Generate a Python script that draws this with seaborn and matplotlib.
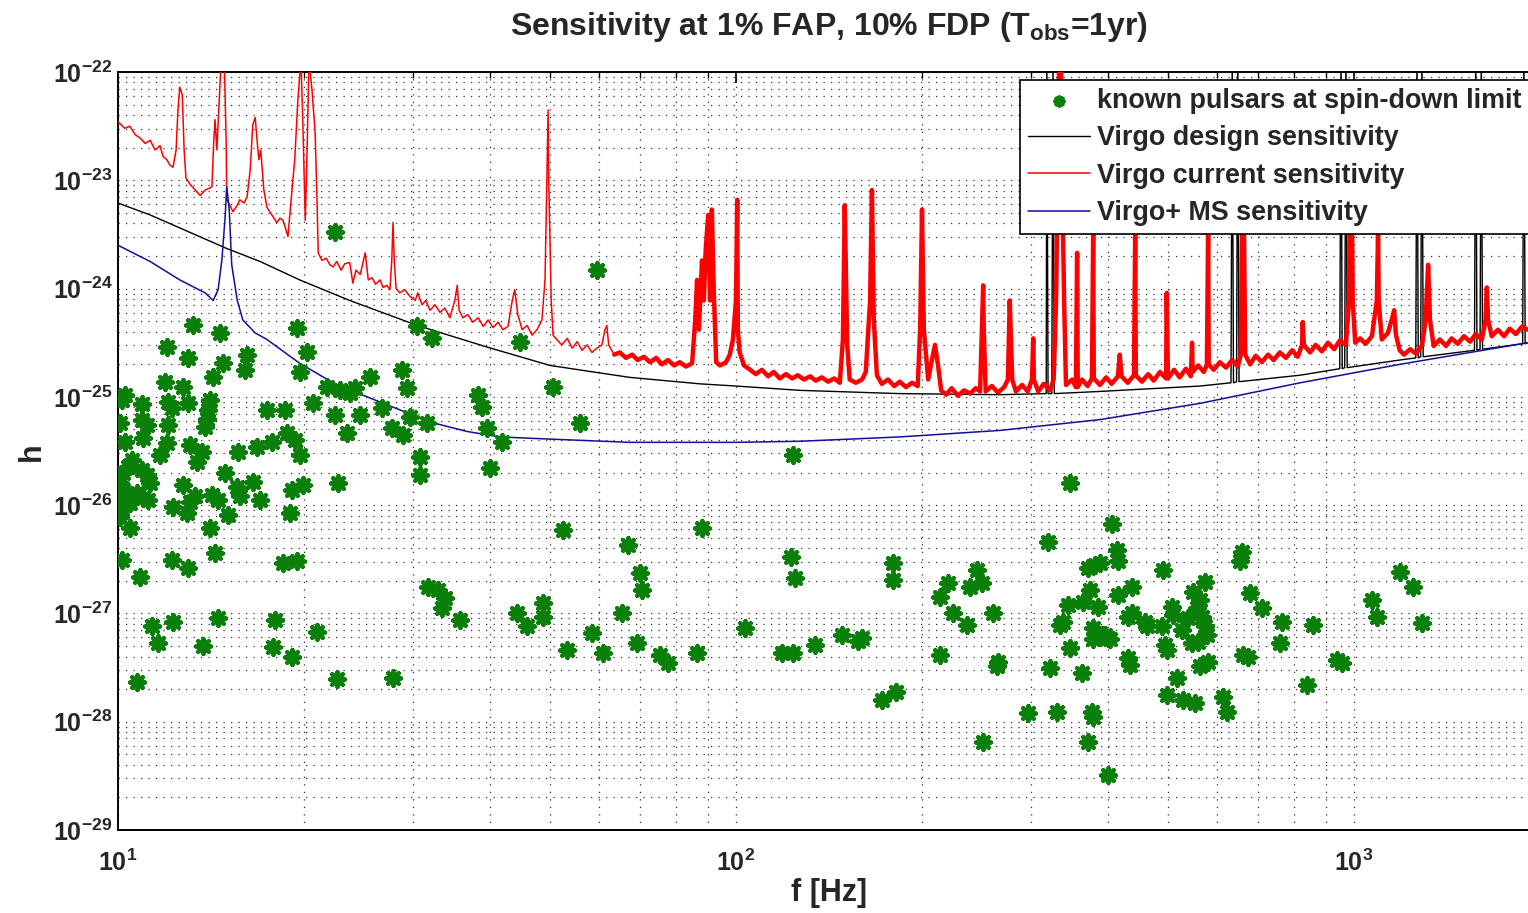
import numpy as np
import pandas as pd
import matplotlib
matplotlib.use("Agg")
import matplotlib.pyplot as plt
import matplotlib.ticker as mticker
import seaborn as sns

# ---------------- data (log10 of f [Hz] and log10 of h) ----------------
pulsars = [
    (1.121, -24.34), (1.165, -24.41), (1.079, -24.54), (1.113, -24.64), (1.209, -24.61), (1.170, -24.69),
    (1.206, -24.75), (1.154, -24.82), (1.076, -24.86), (1.105, -24.91), (1.290, -24.36), (1.306, -24.59),
    (1.294, -24.77), (1.011, -24.98), (1.006, -25.03), (1.039, -25.07), (1.081, -25.05), (1.087, -25.10),
    (1.113, -25.06), (1.149, -25.03), (1.146, -25.12), (1.144, -25.20), (1.141, -25.28), (1.003, -25.24),
    (1.039, -25.21), (1.047, -25.26), (1.081, -25.26), (1.011, -25.42), (1.040, -25.38), (1.079, -25.43),
    (1.117, -25.44), (1.068, -25.54), (1.136, -25.51), (1.128, -25.60), (1.194, -25.51), (1.241, -25.12),
    (1.270, -25.12), (1.273, -25.33), (1.286, -25.40), (1.294, -25.54), (1.225, -25.46), (1.249, -25.42),
    (1.023, -25.58), (1.016, -25.65), (1.008, -25.70), (1.039, -25.68), (1.047, -25.72), (1.052, -25.80),
    (1.003, -25.80), (1.008, -25.86), (1.000, -25.92), (1.031, -25.89), (1.040, -25.93), (1.049, -25.95),
    (1.019, -25.98), (1.006, -26.04), (1.003, -26.11), (1.019, -26.21), (1.105, -25.81), (1.173, -25.70),
    (1.125, -25.92), (1.117, -25.97), (1.089, -26.02), (1.112, -26.07), (1.152, -25.91), (1.162, -25.95),
    (1.193, -25.83), (1.197, -25.92), (1.218, -25.79), (1.230, -25.95), (1.178, -26.09), (1.149, -26.21),
    (1.282, -25.86), (1.299, -25.81), (1.278, -26.07), (1.157, -26.44), (1.087, -26.51), (1.006, -26.51),
    (1.267, -26.53), (1.290, -26.52), (1.036, -26.66), (1.113, -26.58),
    (1.316, -25.06), (1.338, -24.91), (1.359, -24.94), (1.383, -24.92), (1.375, -24.96), (1.408, -24.82),
    (1.351, -25.17), (1.392, -25.17), (1.371, -25.33), (1.427, -25.10), (1.443, -25.29), (1.461, -25.35),
    (1.460, -24.75), (1.468, -24.92), (1.472, -25.19), (1.500, -25.24), (1.484, -24.35), (1.508, -24.46),
    (1.650, -24.49), (1.489, -25.56), (1.489, -25.72), (1.583, -24.98), (1.589, -25.09), (1.597, -25.29),
    (1.602, -25.66), (1.621, -25.42), (1.704, -24.91), (1.748, -25.24), (1.356, -25.80), (1.351, -23.48),
    (1.775, -23.83), (2.092, -25.54), (2.540, -25.80),
    (1.502, -26.76), (1.518, -26.78), (1.529, -26.86), (1.524, -26.95), (1.553, -27.06), (1.055, -27.12),
    (1.089, -27.08), (1.065, -27.27), (1.162, -27.04), (1.138, -27.30), (1.254, -27.06), (1.251, -27.31),
    (1.282, -27.40), (1.322, -27.17), (1.031, -27.63), (1.354, -27.61), (1.445, -27.60), (1.720, -26.23),
    (1.945, -26.21), (1.825, -26.37), (1.845, -26.63), (1.848, -26.78), (1.646, -27.00), (1.688, -26.90),
    (1.688, -27.03), (1.662, -27.12), (1.816, -27.00), (1.767, -27.18), (1.727, -27.34), (1.785, -27.37),
    (1.840, -27.27), (1.877, -27.38), (1.890, -27.46), (1.937, -27.37), (2.015, -27.13), (2.074, -27.37),
    (2.092, -27.37), (2.128, -27.29), (2.172, -27.20), (2.197, -27.25), (2.089, -26.48), (2.095, -26.67),
    (2.254, -26.53), (2.254, -26.69), (2.390, -26.60), (2.343, -26.72), (2.330, -26.85), (2.379, -26.76),
    (2.398, -26.72), (2.351, -27.00), (2.374, -27.11), (2.416, -27.00), (2.204, -27.23), (2.330, -27.38),
    (2.424, -27.45), (2.422, -27.49), (2.259, -27.73), (2.236, -27.80), (2.400, -28.19), (2.505, -26.34),
    (2.608, -26.17), (2.617, -26.41), (2.618, -26.52), (2.570, -26.58), (2.581, -26.55), (2.589, -26.53),
    (2.573, -26.78), (2.561, -26.89), (2.586, -26.94), (2.537, -26.92), (2.618, -26.83), (2.641, -26.76),
    (2.641, -27.00), (2.524, -27.11), (2.529, -27.08), (2.578, -27.13), (2.584, -27.18), (2.589, -27.22),
    (2.602, -27.23), (2.578, -27.24), (2.540, -27.32), (2.508, -27.50), (2.560, -27.55), (2.634, -27.41),
    (2.638, -27.48), (2.472, -27.92), (2.519, -27.91), (2.576, -27.91), (2.578, -27.96), (2.570, -28.19),
    (2.602, -28.49), (2.691, -26.60), (2.634, -27.03), (2.662, -27.08), (2.665, -27.12), (2.689, -27.12),
    (2.706, -26.94), (2.707, -27.01), (2.722, -27.15), (2.731, -27.04), (2.739, -26.80), (2.759, -26.71),
    (2.746, -26.95), (2.751, -26.88), (2.754, -27.03), (2.759, -27.12), (2.762, -27.20), (2.738, -27.27),
    (2.748, -27.26), (2.694, -27.29), (2.697, -27.34), (2.597, -27.20), (2.605, -27.24), (2.751, -27.49),
    (2.764, -27.45), (2.714, -27.60), (2.697, -27.75), (2.723, -27.80), (2.743, -27.83), (2.788, -27.77),
    (2.794, -27.91), (2.819, -26.43), (2.816, -26.52), (2.832, -26.81), (2.851, -26.95), (2.883, -27.08),
    (2.880, -27.27), (2.820, -27.38), (2.828, -27.40), (2.934, -27.11), (2.924, -27.66), (2.972, -27.43),
    (2.981, -27.46), (3.029, -26.88), (3.037, -27.03), (3.074, -26.62), (3.095, -26.76), (3.110, -27.09),
]

design = [
    (1.000, -23.21), (1.052, -23.32), (1.100, -23.44), (1.176, -23.63), (1.230, -23.75), (1.294, -23.92),
    (1.375, -24.11), (1.484, -24.34), (1.597, -24.54), (1.699, -24.71), (1.769, -24.77), (1.828, -24.82),
    (1.942, -24.88), (2.000, -24.90), (2.104, -24.94), (2.265, -24.97), (2.427, -24.98), (2.500, -24.97),
    (2.502, -24.97), (2.503, -21.80), (2.505, -24.97), (2.511, -24.97), (2.513, -21.80), (2.515, -24.97),
    (2.589, -24.95), (2.751, -24.90), (2.801, -24.87), (2.803, -21.80), (2.805, -24.87), (2.810, -24.86),
    (2.812, -21.80), (2.814, -24.86), (2.913, -24.80), (2.977, -24.74), (2.979, -21.80), (2.981, -24.74),
    (2.985, -24.73), (2.987, -21.80), (2.989, -24.73), (3.074, -24.66), (3.100, -24.64), (3.102, -21.80),
    (3.104, -24.64), (3.108, -24.63), (3.110, -21.80), (3.112, -24.63), (3.195, -24.57), (3.197, -21.80),
    (3.199, -24.57), (3.204, -24.56), (3.206, -21.80), (3.208, -24.56), (3.273, -24.51), (3.275, -21.80),
    (3.277, -24.51), (3.281, -24.50),
]

current = [
    (1.000, -22.46), (1.011, -22.52), (1.019, -22.50), (1.028, -22.58), (1.036, -22.61), (1.044, -22.66),
    (1.052, -22.63), (1.060, -22.72), (1.068, -22.68), (1.073, -22.78), (1.079, -22.81), (1.084, -22.86),
    (1.089, -22.88), (1.094, -22.72), (1.097, -22.35), (1.100, -22.14), (1.104, -22.21), (1.107, -22.72),
    (1.110, -22.98), (1.117, -23.04), (1.125, -23.09), (1.133, -23.14), (1.141, -23.09), (1.149, -23.07),
    (1.152, -23.06), (1.155, -22.63), (1.157, -22.44), (1.160, -22.72), (1.163, -22.35), (1.167, -21.89),
    (1.172, -21.89), (1.175, -22.63), (1.176, -23.18), (1.181, -23.23), (1.186, -23.29), (1.193, -23.23),
    (1.197, -23.18), (1.204, -23.21), (1.209, -23.15), (1.214, -22.90), (1.218, -22.49), (1.222, -22.42),
    (1.225, -22.63), (1.228, -22.81), (1.231, -22.72), (1.236, -23.09), (1.241, -23.25), (1.249, -23.32),
    (1.257, -23.39), (1.262, -23.35), (1.267, -23.37), (1.272, -23.46), (1.275, -23.52), (1.278, -23.32),
    (1.282, -23.06), (1.286, -22.81), (1.291, -22.26), (1.296, -21.89), (1.299, -22.44), (1.303, -23.37),
    (1.306, -22.72), (1.309, -21.89), (1.314, -22.17), (1.319, -22.56), (1.322, -23.18), (1.324, -23.67),
    (1.330, -23.74), (1.337, -23.72), (1.343, -23.78), (1.348, -23.80), (1.354, -23.75), (1.361, -23.83),
    (1.367, -23.77), (1.375, -23.76), (1.380, -23.95), (1.385, -23.83), (1.392, -23.87), (1.400, -23.67),
    (1.405, -23.92), (1.411, -23.90), (1.417, -23.96), (1.424, -23.92), (1.429, -23.99), (1.435, -23.97),
    (1.440, -24.01), (1.443, -23.74), (1.445, -23.39), (1.447, -23.74), (1.450, -24.00), (1.456, -24.04),
    (1.464, -24.01), (1.472, -24.07), (1.481, -24.11), (1.485, -24.04), (1.492, -24.15), (1.498, -24.11),
    (1.505, -24.20), (1.513, -24.15), (1.521, -24.22), (1.529, -24.18), (1.537, -24.27), (1.545, -24.11),
    (1.549, -23.97), (1.552, -24.20), (1.558, -24.27), (1.566, -24.24), (1.574, -24.31), (1.583, -24.27),
    (1.591, -24.35), (1.599, -24.29), (1.607, -24.36), (1.615, -24.31), (1.623, -24.38), (1.631, -24.35),
    (1.638, -24.11), (1.642, -24.01), (1.647, -24.24), (1.654, -24.38), (1.662, -24.34), (1.670, -24.43),
    (1.678, -24.38), (1.686, -24.29), (1.691, -23.92), (1.694, -23.00), (1.696, -22.35), (1.697, -23.00),
    (1.701, -24.11), (1.704, -24.43), (1.710, -24.47), (1.718, -24.52), (1.727, -24.46), (1.735, -24.55),
    (1.743, -24.49), (1.751, -24.57), (1.759, -24.52), (1.767, -24.59), (1.775, -24.55), (1.783, -24.52),
    (1.788, -24.38), (1.791, -24.34), (1.794, -24.52), (1.803, -24.61), (1.812, -24.59), (1.822, -24.64),
    (1.832, -24.61), (1.841, -24.66), (1.851, -24.63), (1.861, -24.68), (1.871, -24.64), (1.880, -24.70),
    (1.890, -24.66), (1.900, -24.71), (1.909, -24.68), (1.919, -24.72), (1.929, -24.69), (1.934, -24.29),
    (1.937, -23.92), (1.940, -24.38), (1.945, -23.74), (1.948, -24.11), (1.951, -23.64), (1.955, -23.32),
    (1.958, -24.11), (1.961, -23.27), (1.964, -24.01), (1.968, -24.68), (1.974, -24.71), (1.984, -24.68),
    (1.990, -24.61), (1.995, -24.47), (2.000, -24.11), (2.002, -23.18), (2.003, -24.38), (2.006, -24.59),
    (2.013, -24.71), (2.023, -24.75), (2.032, -24.79), (2.042, -24.75), (2.052, -24.81), (2.061, -24.77),
    (2.071, -24.83), (2.081, -24.79), (2.091, -24.83), (2.100, -24.80), (2.110, -24.84), (2.120, -24.81),
    (2.129, -24.85), (2.139, -24.82), (2.149, -24.86), (2.159, -24.83), (2.168, -24.87), (2.173, -24.47),
    (2.176, -23.23), (2.180, -24.52), (2.184, -24.84), (2.194, -24.87), (2.204, -24.84), (2.210, -24.77),
    (2.217, -24.11), (2.220, -23.09), (2.223, -24.29), (2.228, -24.80), (2.236, -24.88), (2.246, -24.84),
    (2.256, -24.90), (2.265, -24.86), (2.275, -24.91), (2.285, -24.87), (2.294, -24.90), (2.298, -24.38),
    (2.301, -23.27), (2.304, -24.38), (2.311, -24.84), (2.317, -24.66), (2.322, -24.52), (2.327, -24.71),
    (2.332, -24.94), (2.340, -24.98), (2.349, -24.92), (2.359, -24.99), (2.369, -24.94), (2.379, -24.97),
    (2.388, -24.92), (2.395, -24.95), (2.398, -24.38), (2.400, -23.97), (2.401, -24.38), (2.404, -24.95),
    (2.414, -24.90), (2.424, -24.96), (2.434, -24.91), (2.440, -24.84), (2.443, -24.11), (2.447, -24.84),
    (2.453, -24.95), (2.463, -24.89), (2.472, -24.95), (2.479, -24.84), (2.481, -24.46), (2.482, -24.84),
    (2.489, -24.95), (2.498, -24.88), (2.508, -24.94), (2.514, -24.84), (2.518, -24.11), (2.521, -22.81),
    (2.523, -21.89), (2.526, -21.89), (2.527, -22.72), (2.531, -24.11), (2.534, -24.89), (2.544, -24.84),
    (2.550, -24.91), (2.552, -23.67), (2.553, -24.91), (2.560, -24.84), (2.569, -24.90), (2.576, -24.83),
    (2.578, -23.46), (2.579, -24.83), (2.589, -24.89), (2.599, -24.82), (2.608, -24.88), (2.618, -24.81),
    (2.621, -24.61), (2.624, -24.81), (2.634, -24.87), (2.644, -24.80), (2.646, -23.46), (2.647, -24.80),
    (2.657, -24.86), (2.667, -24.79), (2.676, -24.85), (2.686, -24.77), (2.696, -24.83), (2.697, -24.04),
    (2.699, -24.83), (2.709, -24.75), (2.718, -24.82), (2.728, -24.74), (2.736, -24.81), (2.738, -24.50),
    (2.739, -24.77), (2.748, -24.71), (2.757, -24.77), (2.762, -24.70), (2.764, -23.46), (2.765, -24.70),
    (2.773, -24.75), (2.783, -24.68), (2.793, -24.73), (2.803, -24.66), (2.812, -24.72), (2.817, -24.61),
    (2.819, -23.46), (2.820, -22.26), (2.822, -23.46), (2.824, -24.61), (2.832, -24.70), (2.841, -24.62),
    (2.851, -24.68), (2.861, -24.61), (2.870, -24.66), (2.880, -24.59), (2.890, -24.64), (2.900, -24.57),
    (2.909, -24.63), (2.916, -24.52), (2.917, -24.31), (2.919, -24.52), (2.929, -24.59), (2.938, -24.52),
    (2.948, -24.58), (2.958, -24.50), (2.968, -24.56), (2.977, -24.48), (2.987, -24.52), (2.992, -24.11),
    (2.993, -23.49), (2.995, -22.81), (2.997, -23.49), (2.998, -24.11), (3.002, -24.50), (3.010, -24.46),
    (3.019, -24.51), (3.029, -24.44), (3.037, -24.11), (3.039, -23.46), (3.040, -24.11), (3.045, -24.47),
    (3.055, -24.41), (3.061, -24.29), (3.065, -24.20), (3.068, -24.43), (3.074, -24.57), (3.081, -24.61),
    (3.091, -24.56), (3.100, -24.60), (3.110, -24.53), (3.116, -24.29), (3.120, -23.78), (3.123, -24.29),
    (3.129, -24.53), (3.139, -24.47), (3.149, -24.53), (3.158, -24.46), (3.168, -24.51), (3.178, -24.44),
    (3.188, -24.49), (3.197, -24.42), (3.207, -24.47), (3.213, -24.29), (3.215, -23.99), (3.217, -24.29),
    (3.223, -24.44), (3.233, -24.38), (3.243, -24.44), (3.252, -24.37), (3.262, -24.42), (3.272, -24.35),
    (3.281, -24.38),
]

ms_plus = [
    (1.000, -23.60), (1.052, -23.75), (1.100, -23.92), (1.141, -24.04), (1.154, -24.11), (1.162, -24.01),
    (1.168, -23.74), (1.173, -23.37), (1.176, -23.06), (1.180, -23.27), (1.184, -23.78), (1.193, -24.11),
    (1.202, -24.29), (1.222, -24.41), (1.241, -24.47), (1.294, -24.69), (1.348, -24.87), (1.403, -25.00),
    (1.456, -25.12), (1.510, -25.24), (1.565, -25.32), (1.618, -25.37), (1.699, -25.39), (1.828, -25.42),
    (2.000, -25.42), (2.104, -25.41), (2.265, -25.37), (2.427, -25.31), (2.589, -25.21), (2.751, -25.06),
    (2.913, -24.87), (3.074, -24.70), (3.281, -24.50),
]

labels = ["known pulsars at spin-down limit", "Virgo design sensitivity",
          "Virgo current sensitivity", "Virgo+ MS sensitivity"]
title = r"Sensitivity at 1% FAP, 10% FDP (T$_{\mathbf{obs}}$=1yr)"
x_ticks = [1, 2, 3]
y_ticks = [-29, -28, -27, -26, -25, -24, -23, -22]


def to_df(pairs):
    a = np.array(pairs, dtype=float)
    return pd.DataFrame({"f": 10 ** a[:, 0], "h": 10 ** a[:, 1]})


# ---------------- style ----------------
sns.set_style("white")
plt.rcParams["font.family"] = ["Liberation Sans", "DejaVu Sans"]
plt.rcParams["font.weight"] = "bold"
plt.rcParams["mathtext.fontset"] = "custom"
plt.rcParams["mathtext.rm"] = "Liberation Sans:bold"
plt.rcParams["mathtext.bf"] = "Liberation Sans:bold"
plt.rcParams["mathtext.it"] = "Liberation Sans:bold"

W, H = 1528, 913
fig = plt.figure(figsize=(W / 100, H / 100), dpi=100)
ax = fig.add_axes([118 / W, 1 - 830 / H, (1540 - 118) / W, (830 - 72) / H])

green = "#0a800a"
sns.scatterplot(data=to_df(pulsars), x="f", y="h", ax=ax, marker=(8, 2, 0), s=115,
                color=green, edgecolor=green, linewidth=3.0, zorder=5, label=labels[0])
sns.lineplot(data=to_df(design), x="f", y="h", ax=ax, color="black", lw=1.0,
             estimator=None, sort=False, zorder=2, label=labels[1])

cur = to_df(current)
split_f = 10 ** 1.80
cur_low = cur[cur["f"] <= split_f * 1.01]
cur_high = cur[cur["f"] >= split_f * 0.99]
sns.lineplot(data=cur_low, x="f", y="h", ax=ax, color="#ff0000", lw=1.1,
             estimator=None, sort=False, zorder=3, label=labels[2])
sns.lineplot(data=cur_high, x="f", y="h", ax=ax, color="#ff0000", lw=3.2,
             estimator=None, sort=False, zorder=3)
sns.lineplot(data=to_df(ms_plus), x="f", y="h", ax=ax, color="#10109a", lw=1.1,
             estimator=None, sort=False, zorder=4, label=labels[3])

ax.set_xscale("log")
ax.set_yscale("log")
ax.set_xlim(10, 2000)
ax.set_ylim(1e-29, 1e-22)

ax.xaxis.set_major_locator(mticker.FixedLocator([10.0 ** k for k in x_ticks]))
ax.yaxis.set_major_locator(mticker.FixedLocator([10.0 ** k for k in y_ticks]))
ax.xaxis.set_minor_locator(mticker.LogLocator(base=10, subs=np.arange(2, 10), numticks=100))
ax.yaxis.set_minor_locator(mticker.LogLocator(base=10, subs=np.arange(2, 10), numticks=100))
ax.xaxis.set_minor_formatter(mticker.NullFormatter())
ax.yaxis.set_minor_formatter(mticker.NullFormatter())
ax.set_xticklabels([r"$\mathbf{10^{%d}}$" % k for k in x_ticks], fontsize=18)
ax.set_yticklabels([r"$\mathbf{10^{%d}}$" % k for k in y_ticks], fontsize=18)

ax.tick_params(which="both", direction="in", top=True, right=True, color="black")
ax.tick_params(which="major", length=8, width=1.2)
ax.tick_params(which="minor", length=4, width=1.0)
ax.tick_params(axis="x", which="major", pad=14)
ax.tick_params(axis="y", which="major", pad=4)

ax.grid(True, which="major", color="#303030", linestyle=(0, (1, 5)), linewidth=0.9)
ax.grid(True, which="minor", color="#303030", linestyle=(0, (1, 5)), linewidth=0.9)
ax.set_axisbelow(True)
for side in ["left", "bottom", "top", "right"]:
    ax.spines[side].set_color("black")
    ax.spines[side].set_linewidth(1.4)

ax.set_xlabel("")
ax.set_ylabel("")
fig.text(829 / W, 1 - 893 / H, "f [Hz]", ha="center", va="center", fontsize=22, fontweight="bold")
fig.text(32 / W, 1 - 452 / H, "h", ha="center", va="center", rotation=90, fontsize=22, fontweight="bold")
fig.text(829 / W, 1 - 27 / H, title, ha="center", va="center", fontsize=23, fontweight="bold")

handles, lbls = ax.get_legend_handles_labels()
leg = ax.legend(handles, lbls, loc="upper left", bbox_to_anchor=((1020 - 118) / 1422, (830 - 80) / 758),
                borderaxespad=0, frameon=True, fancybox=False, framealpha=1, edgecolor="black",
                prop={"size": 19.4, "weight": "bold"}, handlelength=2.3, handletextpad=0.25,
                labelspacing=0.42, borderpad=0.3, markerscale=0.55)
leg.get_frame().set_linewidth(1.2)
leg.set_zorder(10)

fig.savefig("out.png", dpi=100)
